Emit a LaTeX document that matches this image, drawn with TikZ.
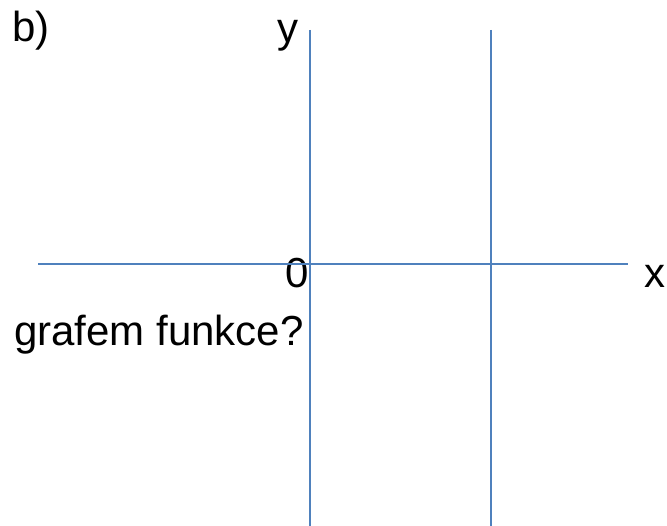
\documentclass[tikz,border=0pt]{standalone}
\usepackage{fontspec}
\setmainfont{Liberation Sans}
\usetikzlibrary{positioning}
\usepackage{xcolor}
\definecolor{axisblue}{HTML}{4F81BD}

\begin{document}
\begin{tikzpicture}[x=1pt, y=-1pt, every node/.style={font=\fontsize{42}{50}\selectfont, inner sep=0pt, anchor=base west}]
\tikzstyle{axis}=[draw=axisblue, line width=1.6pt]
\useasboundingbox (0,0) rectangle (667,526);
\node (part) at (12,42) {b)};
\node (ylab) at (277,43) {y};
\node (zero) at (285,288) {0};
\node (xlab) at (644,288) {x};
\node (question) at (14,346) {grafem funkce?};
\coordinate (ytop) at (310,30);
\coordinate (ybot) at (310,526);
\coordinate (vtop) at (491,30);
\coordinate (vbot) at (491,526);
\coordinate (xleft) at (38,264);
\coordinate (xright) at (628,264);
\draw[axis] (xleft)--(xright);
\draw[axis] (ytop)--(ybot);
\draw[axis] (vtop)--(vbot);
\end{tikzpicture}
\end{document}
